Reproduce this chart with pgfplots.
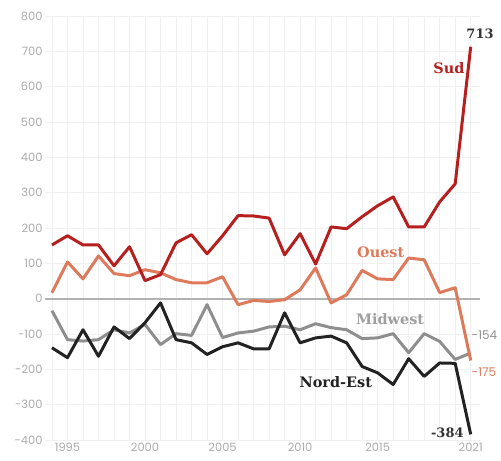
\documentclass[border=0pt]{standalone}
\usepackage{pgfplots}
\pgfplotsset{compat=1.18}
\usepackage{fontspec}
\setmainfont{Poppins}
\newfontfamily\slab{DejaVu Serif}
\definecolor{sud}{HTML}{B5201F}
\definecolor{ouest}{HTML}{DE7A5C}
\definecolor{mid}{HTML}{8E8E8E}
\definecolor{ne}{HTML}{222222}
\definecolor{tick}{HTML}{ABABAB}
\begin{document}
\begin{tikzpicture}
\useasboundingbox (-45bp,-21bp) rectangle (456bp,440bp);
\begin{axis}[
  at={(0,0)}, anchor=south west,
  scale only axis, width=435bp, height=424bp,
  xmin=1993.55, xmax=2021.6, ymin=-400, ymax=800,
  axis line style={draw=none},
  major tick length=0pt, minor tick length=0pt,
  xtick={1995,2000,2005,2010,2015,2021},
  minor xtick={1994,...,2021},
  ytick={-400,-300,...,800},
  xticklabel style={font=\fontsize{11.5}{13}\selectfont, text=tick},
  yticklabel style={font=\fontsize{11.5}{13}\selectfont, text=tick, xshift=1bp},
  /pgf/number format/assume math mode=true,
  /pgf/number format/set thousands separator={},
  xtick pos=bottom, ytick pos=left,
  xmajorgrids, xminorgrids, ymajorgrids,
  grid style={draw=black!6, line width=0.6pt},
  minor grid style={draw=black!6, line width=0.6pt},
  clip=false,
  every axis plot/.append style={line width=3pt, line join=round},
]
\addplot[draw=black!30, line width=1.8pt, forget plot] coordinates {(1993.55,0) (2021.6,0)};
\addplot[mid] coordinates {
(1994,-34)(1995,-116)(1996,-120)(1997,-116)(1998,-88)(1999,-97)(2000,-73)
(2001,-130)(2002,-99)(2003,-104)(2004,-17)(2005,-110)(2006,-97)(2007,-92)
(2008,-80)(2009,-78)(2010,-88)(2011,-71)(2012,-82)(2013,-88)(2014,-113)
(2015,-111)(2016,-99)(2017,-153)(2018,-99)(2019,-121)(2020,-172)(2021,-154)};
\addplot[ne] coordinates {
(1994,-139)(1995,-167)(1996,-88)(1997,-163)(1998,-80)(1999,-113)(2000,-68)
(2001,-12)(2002,-116)(2003,-125)(2004,-158)(2005,-136)(2006,-125)(2007,-142)
(2008,-142)(2009,-40)(2010,-125)(2011,-111)(2012,-106)(2013,-125)(2014,-192)
(2015,-210)(2016,-243)(2017,-170)(2018,-220)(2019,-182)(2020,-183)(2021,-384)};
\addplot[ouest] coordinates {
(1994,17)(1995,104)(1996,56)(1997,121)(1998,71)(1999,65)(2000,82)
(2001,73)(2002,54)(2003,45)(2004,45)(2005,62)(2006,-17)(2007,-5)
(2008,-8)(2009,-3)(2010,25)(2011,87)(2012,-12)(2013,11)(2014,80)
(2015,56)(2016,54)(2017,115)(2018,110)(2019,17)(2020,31)(2021,-175)};
\addplot[sud] coordinates {
(1994,152)(1995,178)(1996,152)(1997,152)(1998,93)(1999,147)(2000,51)
(2001,68)(2002,158)(2003,181)(2004,127)(2005,178)(2006,235)(2007,234)
(2008,228)(2009,124)(2010,184)(2011,98)(2012,203)(2013,198)(2014,232)
(2015,263)(2016,288)(2017,203)(2018,203)(2019,274)(2020,325)(2021,713)};
\node[font=\slab\bfseries\fontsize{13}{15}\selectfont, text=black!80] at (axis cs:2021.6,751) {713};
\node[font=\slab\bfseries\fontsize{14.5}{16}\selectfont, text=sud] at (axis cs:2019.6,652) {Sud};
\node[font=\slab\bfseries\fontsize{14.5}{16}\selectfont, text=ouest] at (axis cs:2015.2,130) {Ouest};
\node[font=\slab\bfseries\fontsize{14.5}{16}\selectfont, text=mid!85] at (axis cs:2015.8,-57) {Midwest};
\node[font=\slab\bfseries\fontsize{14.5}{16}\selectfont, text=ne] at (axis cs:2012.3,-237) {Nord-Est};
\node[font=\fontsize{12}{14}\selectfont, text=mid, anchor=west, inner sep=0pt] at (axis cs:2021.05,-104) {-154};
\node[font=\fontsize{12}{14}\selectfont, text=ouest, anchor=west, inner sep=0pt] at (axis cs:2021.05,-209) {-175};
\node[font=\slab\bfseries\fontsize{13}{15}\selectfont, text=black!80, anchor=east, inner sep=0pt] at (axis cs:2020.55,-379) {-384};
\end{axis}
\end{tikzpicture}
\end{document}
